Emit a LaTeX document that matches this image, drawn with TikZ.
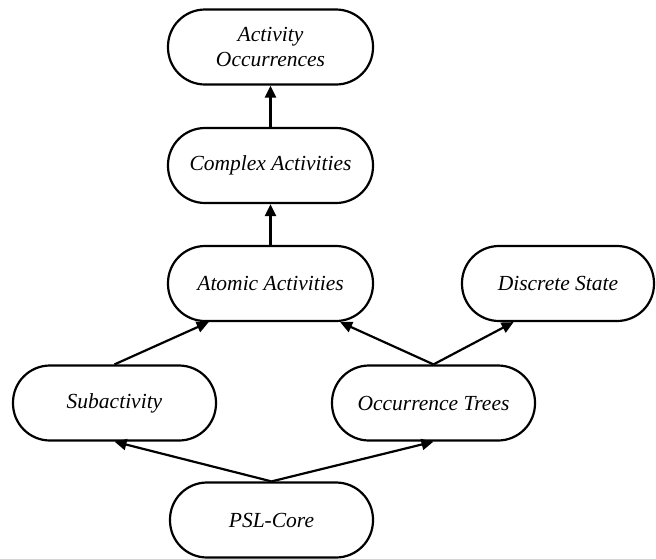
\documentclass[tikz,border=0pt]{standalone}
\usepackage{fontspec}
\setmainfont{Liberation Serif}
\usetikzlibrary{arrows.meta}
\begin{document}
\begin{tikzpicture}[x=1pt,y=-1pt,line width=2.2pt,
	font=\itshape\fontsize{21.5}{25}\selectfont,
	theory/.style={draw,rectangle,rounded corners=37pt,minimum height=75pt,align=center,inner sep=0pt},
	>={Triangle[length=12pt,width=11pt]}]
	\useasboundingbox (0,0) rectangle (656,558);
	%%%Vẽ các khối
	\foreach \ten/\x/\y/\w/\nd in {%
		occ/270.5/47/205/{Activity\\Occurrences},
		cplx/270.5/165.5/205/{Complex Activities},
		atom/270.5/283.5/205/{Atomic Activities},
		disc/558/283.5/192/{Discrete State},
		sub/114.5/403/203/{Subactivity},
		tree/433.5/403/203/{Occurrence Trees},
		core/271.5/520/203/{PSL-Core}%
		}{%
		\path (\x,\y) node[theory,minimum width=\w pt] (\ten) {\nd};
	}
	%%%Vẽ các mũi tên
	\foreach \tu/\den in {%
		cplx.north/occ.south,
		atom.north/cplx.south,
		sub.north/atom.212,
		tree.north/atom.-29,
		tree.north/disc.221,
		core.north/sub.south,
		core.north/tree.south%
		}{%
		\draw[->] (\tu)--(\den);
	}
\end{tikzpicture}
\end{document}
